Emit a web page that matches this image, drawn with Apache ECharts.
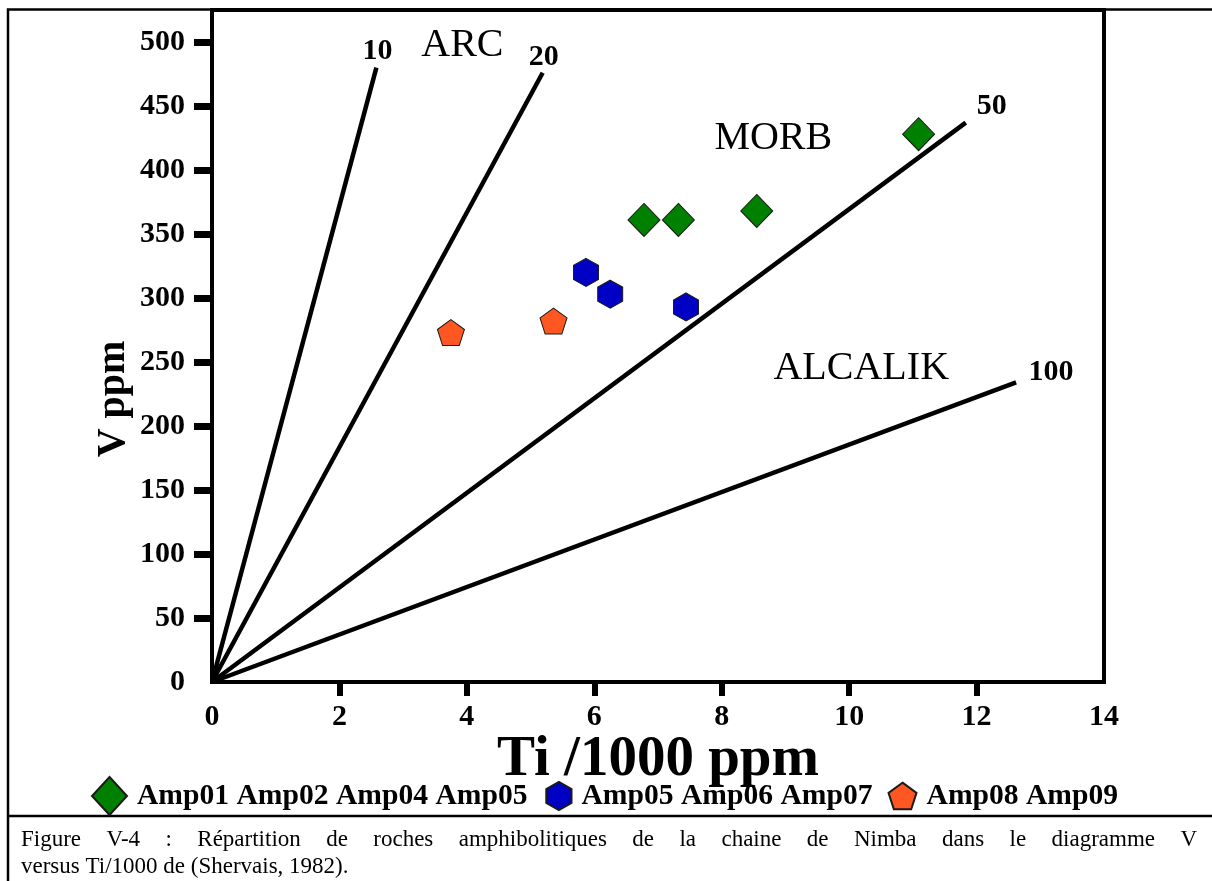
<!DOCTYPE html>
<html>
<head>
<meta charset="utf-8">
<script src="https://cdn.jsdelivr.net/npm/echarts@6/dist/echarts.min.js"></script>
<style>
  html, body { margin: 0; padding: 0; background: #fff; }
  #chart { width: 1212px; height: 881px; }
</style>
</head>
<body>
<div id="chart"></div>
<script>
// V (ppm) against Ti/1000 (ppm) for the Nimba amphibolites
const seriesNames = ['Amp01 Amp02 Amp04 Amp05', 'Amp05 Amp06 Amp07', 'Amp08 Amp09'];
const groupDiamond = [[6.78, 361], [7.32, 361], [8.55, 368], [11.09, 428]];
const groupHexagon = [[5.87, 320], [6.25, 303], [7.44, 293]];
const groupPentagon = [[3.75, 273], [5.36, 282]];

// Ti/V reference lines: each runs from the origin to its end point
const ratioNames = ['10', '20', '50', '100'];
const ratioEnds = [[2.58, 480], [5.19, 476], [11.83, 437], [12.62, 234]];

// Field names and where they sit in data space
const fieldNames = ['ARC', 'MORB', 'ALCALIK'];
const fieldAnchors = [[3.93, 497], [8.81, 425], [10.19, 245]];

// Tick values
const xTickLabels = [0, 2, 4, 6, 8, 10, 12, 14];
const xTickMarks = [2, 4, 6, 8, 10, 12];
const yTickLabels = [0, 50, 100, 150, 200, 250, 300, 350, 400, 450, 500];
const yTickMarks = [50, 100, 150, 200, 250, 300, 350, 400, 450, 500];

const captionLine1 = 'Figure V-4 : Répartition de roches amphibolitiques de la chaine de Nimba dans le diagramme V';
const captionLine2 = 'versus Ti/1000 de (Shervais, 1982).';

// ---- styling ----
const SERIF = '"Liberation Serif", "Times New Roman", serif';
const colors = ['#008000', '#0000c4', '#ff5722'];
const hexPath = 'path://M0,-1 L0.9,-0.5 L0.9,0.5 L0,1 L-0.9,0.5 L-0.9,-0.5 Z';
const pentPath = 'path://M0,-1 L0.951,-0.309 L0.588,0.809 L-0.588,0.809 L-0.951,-0.309 Z';
// legend icons: a hair-thin stub at the far corner widens each icon's box,
// so that the shape itself sits against the right edge, next to its text
const legendIcons = [
  'path://M-1.08,-1 L-1.08,-0.999 M0,-1 L0.92,0 L0,1 L-0.92,0 Z',
  'path://M-1.814,-1.357 L-1.814,-1.356 M0.9,1.357 L0.9,1.356 M0,-1 L0.9,-0.5 L0.9,0.5 L0,1 L-0.9,0.5 L-0.9,-0.5 Z',
  'path://M-1.63,-1.386 L-1.63,-1.385 M0.951,1.195 L0.951,1.194 M0,-1 L0.951,-0.309 L0.588,0.809 L-0.588,0.809 L-0.951,-0.309 Z'
];
const ratioLabelOffsets = [[1, -16], [1, -15], [26, -16], [35, -10]];

// justify the first caption line across the figure width
const captionLeft = 21, captionRight = 1197, captionSize = 23;
const mctx = document.createElement('canvas').getContext('2d');
mctx.font = captionSize + 'px "Liberation Serif"';
const capWords = captionLine1.split(' ');
const wordsWidth = capWords.reduce((s, w) => s + mctx.measureText(w).width, 0);
const gapWidth = (captionRight - captionLeft - wordsWidth) / (capWords.length - 1);
const captionRich = capWords.join('{g| }');

const chart = echarts.init(document.getElementById('chart'), null, { renderer: 'canvas' });

const axisFont = { fontFamily: SERIF, fontWeight: 'bold', fontSize: 30, color: '#000' };

const ratioSeries = ratioNames.map((name, i) => ({
  type: 'line',
  name: 'Ti/V ' + name,
  data: [
    { value: [0, 0], label: { show: false } },
    {
      value: ratioEnds[i],
      label: {
        show: true,
        position: 'inside',
        offset: ratioLabelOffsets[i],
        formatter: name,
        fontFamily: SERIF, fontWeight: 'bold', fontSize: 30, color: '#000'
      }
    }
  ],
  showSymbol: true,
  symbol: 'circle',
  symbolSize: 0,
  itemStyle: { color: '#000' },
  lineStyle: { color: '#000', width: 4.5 },
  silent: true,
  z: 3
}));

const fieldSeries = {
  type: 'scatter',
  name: 'fields',
  data: fieldAnchors.map((p, i) => ({ value: p, name: fieldNames[i] })),
  symbolSize: 0,
  itemStyle: { color: '#000' },
  label: {
    show: true,
    position: 'inside',
    formatter: (p) => p.name,
    fontFamily: SERIF, fontSize: 40, color: '#000', opacity: 1
  },
  silent: true,
  z: 3
};

const pointSeries = [
  { data: groupDiamond, symbol: 'diamond', symbolSize: [32, 33] },
  { data: groupHexagon, symbol: hexPath, symbolSize: [25, 28] },
  { data: groupPentagon, symbol: pentPath, symbolSize: [27, 26] }
].map((s, i) => ({
  type: 'scatter',
  name: seriesNames[i],
  data: s.data,
  symbol: s.symbol,
  symbolSize: s.symbolSize,
  itemStyle: { color: colors[i], borderColor: '#1a1a1a', borderWidth: 1, opacity: 1 },
  silent: true,
  z: 5
}));

chart.setOption({
  animation: false,
  backgroundColor: '#fff',
  grid: {
    left: 212, right: 108, top: 10, bottom: 199,
    show: true, borderColor: '#000', borderWidth: 4, backgroundColor: 'transparent'
  },
  xAxis: {
    type: 'value', min: 0, max: 14, interval: 2,
    name: 'Ti /1000 ppm', nameLocation: 'middle', nameGap: 50, nameMoveOverlap: false,
    nameTextStyle: { fontFamily: SERIF, fontWeight: 'bold', fontSize: 57, color: '#000' },
    axisLine: { show: true, lineStyle: { color: '#000', width: 4 } },
    axisTick: { show: true, customValues: xTickMarks, length: 14, lineStyle: { color: '#000', width: 6 } },
    axisLabel: Object.assign({ customValues: xTickLabels, margin: 20 }, axisFont),
    splitLine: { show: false }
  },
  yAxis: {
    type: 'value', min: 0, max: 525, interval: 50,
    name: 'V ppm', nameLocation: 'middle', nameGap: 78, nameMoveOverlap: false,
    nameTextStyle: { fontFamily: SERIF, fontWeight: 'bold', fontSize: 40, color: '#000', padding: [0, 106, 0, 0] },
    axisLine: { show: true, lineStyle: { color: '#000', width: 4 } },
    axisTick: { show: true, customValues: yTickMarks, length: 18, lineStyle: { color: '#000', width: 7 } },
    axisLabel: Object.assign({ customValues: yTickLabels, margin: 27 }, axisFont),
    splitLine: { show: false }
  },
  legend: {
    left: 88, top: 776, padding: 0,
    itemWidth: 38, itemHeight: 38, itemGap: 5,
    symbolKeepAspect: true,
    selectedMode: false,
    data: seriesNames.map((n, i) => ({ name: n, icon: legendIcons[i] })),
    textStyle: { fontFamily: SERIF, fontWeight: 'bold', fontSize: 29.6, color: '#000', padding: [0, 0, 8, 5] }
  },
  graphic: [
    {
      type: 'rect', silent: true, z: 0,
      shape: { x: 8, y: 9.5, width: 1230, height: 900 },
      style: { fill: 'none', stroke: '#000', lineWidth: 2.5 }
    },
    {
      type: 'line', silent: true,
      shape: { x1: 8, y1: 816, x2: 1212, y2: 816 },
      style: { stroke: '#000', lineWidth: 2.5 }
    },
    {
      type: 'text', silent: true,
      style: {
        text: captionRich, x: captionLeft, y: 840, verticalAlign: 'middle',
        fontFamily: SERIF, fontSize: captionSize, fill: '#000',
        rich: { g: { width: gapWidth } }
      }
    },
    {
      type: 'text', silent: true,
      style: {
        text: captionLine2, x: captionLeft, y: 867, verticalAlign: 'middle',
        fontFamily: SERIF, fontSize: captionSize, fill: '#000'
      }
    }
  ],
  series: ratioSeries.concat([fieldSeries], pointSeries)
});
</script>
</body>
</html>
